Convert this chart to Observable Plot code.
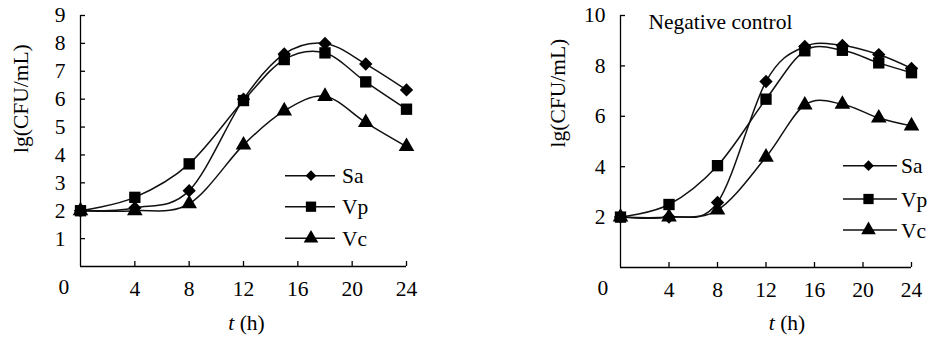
<!DOCTYPE html>
<html><head><meta charset="utf-8">
<script src="https://cdn.jsdelivr.net/npm/d3@7"></script>
<script src="https://cdn.jsdelivr.net/npm/@observablehq/plot@0.6"></script>
<style>
html,body{margin:0;padding:0;background:#fff;}
#wrap{position:relative;width:929px;height:337px;overflow:hidden;font-family:"Liberation Serif","Times New Roman",serif;}
#wrap svg, #wrap svg text{font-family:"Liberation Serif","Times New Roman",serif !important;}
.panel{position:absolute;top:0;}
</style></head><body><div id="wrap"></div>
<script>
const series = ["Sa","Vp","Vc"];
const symbolNames = ["diamond2","square","triangle"];
const symbolR = [6.0, 6.4, 5.8];
const hoursA = [0,4,8,12,15,18,21,24];
const saA = [2.0,2.1,2.72,6.0,7.62,8.0,7.26,6.33];
const vpA = [2.0,2.48,3.68,5.95,7.42,7.66,6.62,5.64];
const vcA = [2.0,2.0,2.25,4.36,5.58,6.1,5.16,4.3];
const hoursB = [0,4,8,12,15.2,18.3,21.3,24];
const saB = [2.0,2.0,2.58,7.38,8.77,8.81,8.45,7.9];
const vpB = [2.0,2.5,4.04,6.68,8.6,8.62,8.12,7.73];
const vcB = [2.0,2.0,2.28,4.38,6.45,6.48,5.93,5.62];
const xTicks = [4,8,12,16,20,24];
const yTicksA = [1,2,3,4,5,6,7,8,9];
const yTicksB = [2,4,6,8,10];
const yLabel = "lg(CFU/mL)";
const xLabel = "t (h)";
const titleB = "Negative control";

const FONT = '"Liberation Serif", "Times New Roman", serif';
const FS = 21.5;

function panel(o) {
  const rows = [];
  series.forEach((s, i) => o.hours.forEach((h, j) => rows.push({series: s, t: h, v: o.vals[i][j]})));
  const dotMarks = series.map((s, i) => Plot.dot(rows.filter(d => d.series === s), {
    x: "t", y: "v", symbol: () => symbolNames[i], fill: "#000", stroke: "none", r: symbolR[i]
  }));
  const marks = [
    Plot.ruleX([0], {stroke: "#000", strokeWidth: 1.3}),
    Plot.ruleY([0], {stroke: "#000", strokeWidth: 1.3}),
    Plot.axisY({ticks: o.yTicks, tickSize: -5, tickPadding: 20, label: null, fontSize: FS, strokeWidth: 1.3}),
    Plot.axisX({ticks: xTicks, tickSize: -5, tickPadding: 19, label: null, fontSize: FS, strokeWidth: 1.3}),
    Plot.text([yLabel], {frameAnchor: "left", rotate: -90, dx: o.yLabelDx, dy: o.yLabelDy, fontSize: FS, fill: "#000"}),
    Plot.text([xLabel], {frameAnchor: "bottom", dx: o.xLabelDx, dy: o.xLabelDy, fontSize: FS, fill: "#000", lineAnchor: "middle"}),
    Plot.text(["0"], {frameAnchor: "bottom-left", dx: o.zeroDx, dy: 21, fontSize: FS, fill: "#000", lineAnchor: "middle"}),
    Plot.line(rows, {x: "t", y: "v", z: "series", curve: "cardinal", stroke: "#111", strokeWidth: 1.5}),
    ...dotMarks
  ];
  if (o.title) marks.push(Plot.text([o.title], {frameAnchor: "top-left", textAnchor: "start", dx: 28, dy: 7, fontSize: FS, fill: "#000", lineAnchor: "middle"}));
  const svg = Plot.plot({
    width: o.width, height: 337,
    marginTop: 15, marginBottom: o.marginBottom, marginLeft: o.marginLeft, marginRight: o.marginRight,
    style: {fontFamily: FONT, fontSize: FS + "px", color: "#000", background: "transparent", overflow: "visible"},
    x: {domain: [0, 24]},
    y: {domain: o.yDomain},
    symbol: {domain: symbolNames, range: symbolNames},
    marks
  });
  d3.select(svg).selectAll("text").filter(function() { return this.textContent === xLabel; })
    .each(function() {
      const t = d3.select(this);
      t.text(null);
      t.append("tspan").attr("font-style", "italic").text("t");
      t.append("tspan").text(" (h)");
    });
  svg.classList.add("panel");
  svg.style.left = o.left + "px";
  svg.style.position = "absolute";
  svg.style.top = "0px";
  return svg;
}

const wrap = document.getElementById("wrap");
wrap.appendChild(panel({
  hours: hoursA, vals: [saA, vpA, vcA], yDomain: [0, 9], yTicks: yTicksA,
  left: 0, width: 460, marginLeft: 80, marginRight: 54, marginBottom: 71,
  yLabelDx: -59, yLabelDy: 12, xLabelDx: 3, xLabelDy: 57, zeroDx: -22
}));
wrap.appendChild(panel({
  hours: hoursB, vals: [saB, vpB, vcB], yDomain: [0, 10], yTicks: yTicksB,
  left: 460, width: 469, marginLeft: 160, marginRight: 18, marginBottom: 70,
  yLabelDx: -62, yLabelDy: 6, xLabelDx: 21, xLabelDy: 56, zeroDx: -23, title: titleB
}));

// legends (layout overlay)
const legends = [
  {x1: 285, x2: 335, mx: 311, tx: 342, ys: [175.7, 206.7, 238.3]},
  {x1: 843, x2: 897, mx: 868.5, tx: 901, ys: [165.7, 199, 230]}
];
const symTypes = [d3.symbolDiamond2, d3.symbolSquare, d3.symbolTriangle];
const legR = [4.8, 5.8, 5.4];
const ov = d3.select(wrap).append("svg")
  .attr("width", 929).attr("height", 337)
  .style("position", "absolute").style("left", 0).style("top", 0)
  .style("font-family", FONT).style("font-size", FS + "px");
legends.forEach(L => {
  series.forEach((s, i) => {
    const y = L.ys[i];
    ov.append("line").attr("x1", L.x1).attr("x2", L.x2).attr("y1", y).attr("y2", y)
      .attr("stroke", "#111").attr("stroke-width", 1.5);
    ov.append("path").attr("d", d3.symbol().type(symTypes[i]).size(Math.PI * legR[i] * legR[i])())
      .attr("transform", `translate(${L.mx},${y})`).attr("fill", "#000");
    ov.append("text").attr("x", L.tx).attr("y", y).attr("dy", "0.35em").attr("fill", "#000").text(s);
  });
});
</script></body></html>
